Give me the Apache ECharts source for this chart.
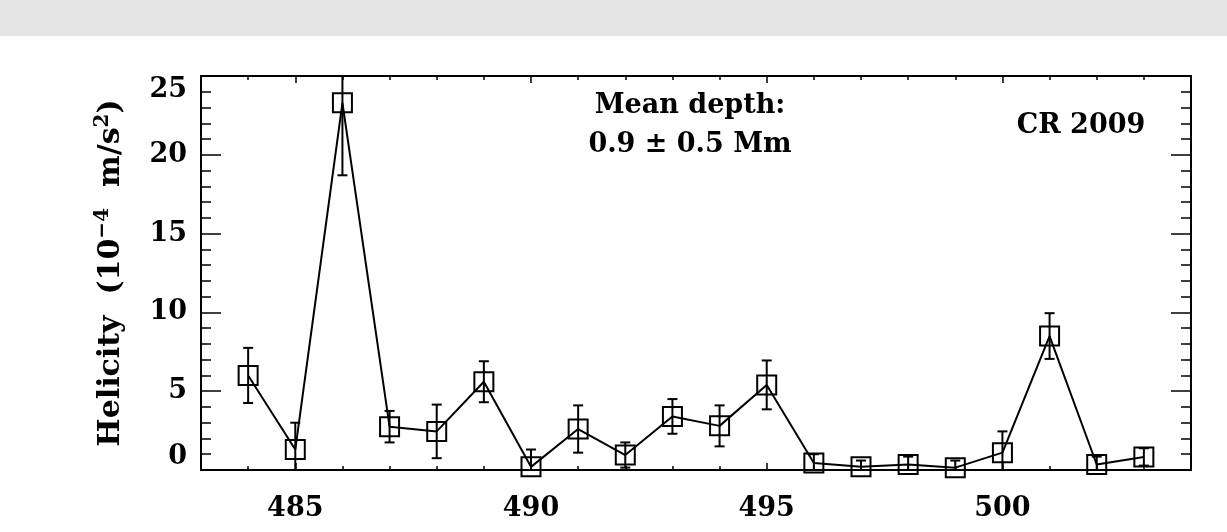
<!DOCTYPE html>
<html>
<head>
<meta charset="utf-8" />
<title>Helicity CR 2009</title>
<style>
  html, body { margin: 0; padding: 0; background: #fff; }
  #chartBox { width: 1227px; height: 532px; }
</style>
</head>
<body>
<div id="chartBox"></div>
<script src="https://cdn.jsdelivr.net/npm/echarts@6/dist/echarts.min.js"></script>
<script>
// Carrington rotation numbers and helicity (10^-4 m/s^2) with errors
var rotations = [484, 485, 486, 487, 488, 489, 490, 491, 492, 493, 494, 495, 496, 497, 498, 499, 500, 501, 502, 503];
var helicity  = [6.0, 1.3, 23.3, 2.75, 2.45, 5.6, 0.2, 2.6, 0.95, 3.4, 2.8, 5.4, 0.45, 0.2, 0.35, 0.15, 1.1, 8.5, 0.35, 0.83];
var helErr    = [1.75, 1.7, 4.6, 1.0, 1.7, 1.3, 1.1, 1.5, 0.8, 1.1, 1.3, 1.55, 0.55, 0.4, 0.5, 0.45, 1.35, 1.45, 0.5, 0.55];

var xMajorTicks = [485, 490, 495, 500];
var yTicks = [0, 5, 10, 15, 20, 25];

var _font = 'DejaVu Serif';
var _fontSize = 27;

var errRows = rotations.map(function (r, i) {
  return [r, helicity[i] - helErr[i], helicity[i] + helErr[i]];
});
var lineRows = rotations.map(function (r, i) { return [r, helicity[i]]; });

// error bar with caps, cut at the plot frame
function renderErrBar(params, api) {
  var cs = params.coordSys;
  var x = api.value(0);
  var p1 = api.coord([x, api.value(2)]);
  var p2 = api.coord([x, api.value(1)]);
  var yTop = Math.max(p1[1], cs.y), yBot = Math.min(p2[1], cs.y + cs.height);
  var cap = 5;
  var st = { stroke: '#000', lineWidth: 2 };
  var kids = [{ type: 'line', shape: { x1: p1[0], y1: yTop, x2: p1[0], y2: yBot }, style: st }];
  if (p1[1] >= cs.y) kids.push({ type: 'line', shape: { x1: p1[0] - cap, y1: p1[1], x2: p1[0] + cap, y2: p1[1] }, style: st });
  if (p2[1] <= cs.y + cs.height) kids.push({ type: 'line', shape: { x1: p2[0] - cap, y1: p2[1], x2: p2[0] + cap, y2: p2[1] }, style: st });
  return { type: 'group', children: kids };
}

function xAxisCfg(pos, major, withLine, withLabel) {
  return {
    type: 'value', position: pos, min: 483, max: 504, interval: 1,
    axisLine: { show: withLine, lineStyle: { color: '#000', width: 2 } },
    axisTick: major
      ? { inside: true, length: 7, customValues: xMajorTicks, lineStyle: { color: '#000', width: 1.5 } }
      : { inside: true, length: 4, lineStyle: { color: '#000', width: 1.5 } },
    axisLabel: withLabel
      ? { show: true, customValues: xMajorTicks, margin: 25, color: '#000', fontFamily: _font, fontWeight: 'bold', fontSize: _fontSize }
      : { show: false },
    splitLine: { show: false }
  };
}

function yAxisCfg(pos, withLabel) {
  return {
    type: 'value', position: pos, min: 0, max: 25, interval: 5,
    axisLine: { show: true, lineStyle: { color: '#000', width: 2 } },
    axisTick: { inside: true, length: 20, lineStyle: { color: '#000', width: 1.5 } },
    minorTick: { show: true, splitNumber: 5, length: 10, lineStyle: { color: '#000', width: 1.5 } },
    axisLabel: withLabel
      ? { show: true, customValues: yTicks, margin: 14, color: '#000', fontFamily: _font, fontWeight: 'bold', fontSize: _fontSize,
          verticalAlignMinLabel: 'bottom', verticalAlignMaxLabel: 'top' }
      : { show: false },
    splitLine: { show: false },
    minorSplitLine: { show: false },
    name: withLabel ? '{n|Helicity  (10}{s|\u22124}{n|  m/s}{s|2}{n|)}' : '',
    nameLocation: 'middle',
    nameRotate: 90,
    nameGap: 72,
    nameTextStyle: {
      color: '#000', fontFamily: _font, fontWeight: 'bold', fontSize: 30,
      rich: {
        n: { fontFamily: _font, fontWeight: 'bold', fontSize: 30, lineHeight: 36, color: '#000' },
        s: { fontFamily: _font, fontWeight: 'bold', fontSize: 20, lineHeight: 36, verticalAlign: 'top', color: '#000' }
      }
    }
  };
}

var myChart = echarts.init(document.getElementById('chartBox'));
myChart.setOption({
  backgroundColor: '#fff',
  animation: false,
  grid: { left: 201, right: 36, top: 76, bottom: 62, outerBoundsMode: 'none', containLabel: false },
  graphic: [
    { type: 'rect', left: 0, top: 0, shape: { width: 1227, height: 36 }, style: { fill: '#e4e4e4' }, silent: true },
    { type: 'text', x: 690, y: 106, style: { text: 'Mean depth:', fill: '#000', font: 'bold 27px "DejaVu Serif"', align: 'center', verticalAlign: 'middle' } },
    { type: 'text', x: 690, y: 145, style: { text: '0.9 \u00B1 0.5 Mm', fill: '#000', font: 'bold 27px "DejaVu Serif"', align: 'center', verticalAlign: 'middle' } },
    { type: 'text', x: 1081, y: 126, style: { text: 'CR 2009', fill: '#000', font: 'bold 27px "DejaVu Serif"', align: 'center', verticalAlign: 'middle' } }
  ],
  xAxis: [
    xAxisCfg('bottom', false, true, true),
    xAxisCfg('bottom', true, false, false),
    xAxisCfg('top', false, true, false),
    xAxisCfg('top', true, false, false)
  ],
  yAxis: [
    yAxisCfg('left', true),
    yAxisCfg('right', false)
  ],
  series: [
    {
      type: 'custom',
      xAxisIndex: 0, yAxisIndex: 0,
      renderItem: renderErrBar,
      data: errRows,
      z: 3
    },
    {
      type: 'line',
      xAxisIndex: 0, yAxisIndex: 0,
      data: lineRows,
      symbol: 'rect',
      symbolSize: 19,
      showAllSymbol: true,
      lineStyle: { color: '#000', width: 2 },
      itemStyle: { color: 'rgba(0,0,0,0)', borderColor: '#000', borderWidth: 2 },
      z: 4
    }
  ]
});
</script>
</body>
</html>
